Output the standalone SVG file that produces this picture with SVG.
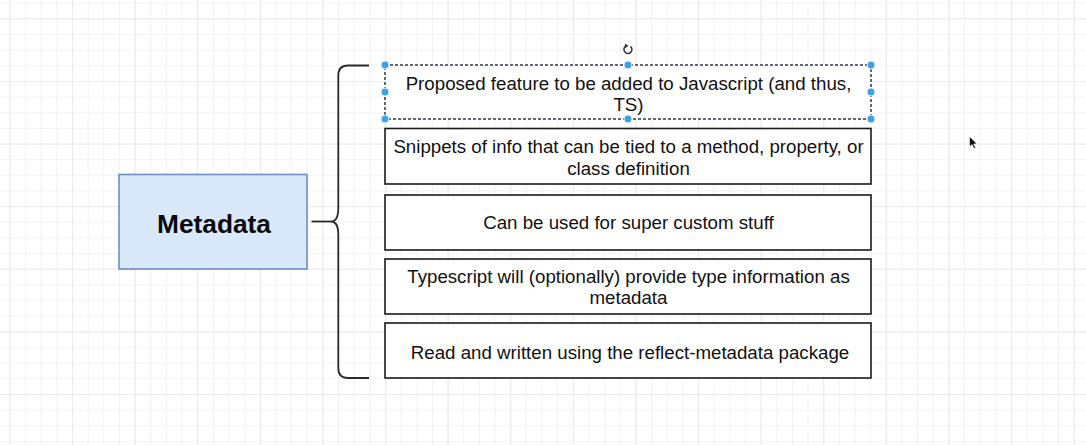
<svg xmlns="http://www.w3.org/2000/svg" width="1086" height="445" viewBox="0 0 1086 445">
<style>
.box{fill:#ffffff;stroke:#1a1a1a;stroke-width:1.6}
.lbl{font-family:"Liberation Sans",Arial,Helvetica,sans-serif;font-size:18.7px;fill:#111;text-anchor:middle}
.title{font-family:"Liberation Sans",Arial,Helvetica,sans-serif;font-size:26.3px;font-weight:bold;fill:#0a0a0a;text-anchor:middle}
.conn{fill:none;stroke:#2a2a2a;stroke-width:1.8;stroke-linecap:butt}
.handle{fill:#3aa3ea;stroke:#ffffff;stroke-width:0.8}
</style>
<defs>
<pattern id="minor" x="9.4" y="2.7" width="15.65" height="15.65" patternUnits="userSpaceOnUse">
<path d="M0.5,0 V15.65 M0,0.5 H15.65" fill="none" stroke="#f3f3f3" stroke-width="1"/>
</pattern>
<pattern id="major" x="72" y="81" width="62.6" height="62.6" patternUnits="userSpaceOnUse">
<path d="M0.5,0 V62.6 M0,0.5 H62.6" fill="none" stroke="#ebebeb" stroke-width="1.2"/>
</pattern>
</defs>
<rect width="1086" height="445" fill="#ffffff"/>
<rect width="1086" height="445" fill="url(#minor)"/>
<rect width="1086" height="445" fill="url(#major)"/>

<g id="connectors">
<path class="conn" d="M369,65.5 H348 Q338.3,65.5 338.3,75.5 V208 Q338.3,221.5 331,221.5 Q338.3,221.5 338.3,235 V368 Q338.3,378 348,378 H369"/>
<path class="conn" d="M311.5,221.5 H331"/>
</g>

<g id="metadata">
<rect x="119" y="174.5" width="188" height="94.5" fill="#dae8fc" stroke="#6c8ebf" stroke-width="1.6"/>
<text class="title" x="214" y="232.5">Metadata</text>
</g>

<g id="proposed">
<rect x="385" y="65" width="486" height="54" fill="#ffffff" stroke="#2b3a4a" stroke-width="1.5" stroke-dasharray="3 2"/>
<text class="lbl" x="628.5" y="89.5">Proposed feature to be added to Javascript (and thus,</text>
<text class="lbl" x="628.5" y="110.5">TS)</text>
</g>

<g id="snippets">
<rect class="box" x="385" y="128.5" width="486" height="55.5"/>
<text class="lbl" x="628.5" y="153">Snippets of info that can be tied to a method, property, or</text>
<text class="lbl" x="628.5" y="174.5">class definition</text>
</g>

<g id="custom">
<rect class="box" x="385" y="195" width="486" height="55"/>
<text class="lbl" x="628.5" y="229">Can be used for super custom stuff</text>
</g>

<g id="typescript">
<rect class="box" x="385" y="259" width="486" height="55"/>
<text class="lbl" x="628.5" y="282.5">Typescript will (optionally) provide type information as</text>
<text class="lbl" x="628.5" y="304">metadata</text>
</g>

<g id="reflect">
<rect class="box" x="385" y="323" width="486" height="55"/>
<text class="lbl" x="630" y="358.5">Read and written using the reflect-metadata package</text>
</g>

<g id="selection">
<circle class="handle" cx="385" cy="65" r="4"/>
<circle class="handle" cx="628" cy="65" r="4"/>
<circle class="handle" cx="871" cy="65" r="4"/>
<circle class="handle" cx="385" cy="92" r="4"/>
<circle class="handle" cx="871" cy="92" r="4"/>
<circle class="handle" cx="385" cy="119" r="4"/>
<circle class="handle" cx="628" cy="119" r="4"/>
<circle class="handle" cx="871" cy="119" r="4"/>
<path d="M626.3,45.8 A4,4 0 1 0 630.4,46.3" fill="none" stroke="#333" stroke-width="1.5"/>
<path d="M624.8,43.6 L628.4,45.7 L625.2,48.2 Z" fill="#333"/>
</g>

<g id="cursor">
<path d="M969.5,136.5 L969.5,147 L972,144.6 L974,148.6 L975.6,147.8 L973.7,144 L977,143.8 Z" fill="#111" stroke="#ffffff" stroke-width="0.6"/>
</g>
</svg>
